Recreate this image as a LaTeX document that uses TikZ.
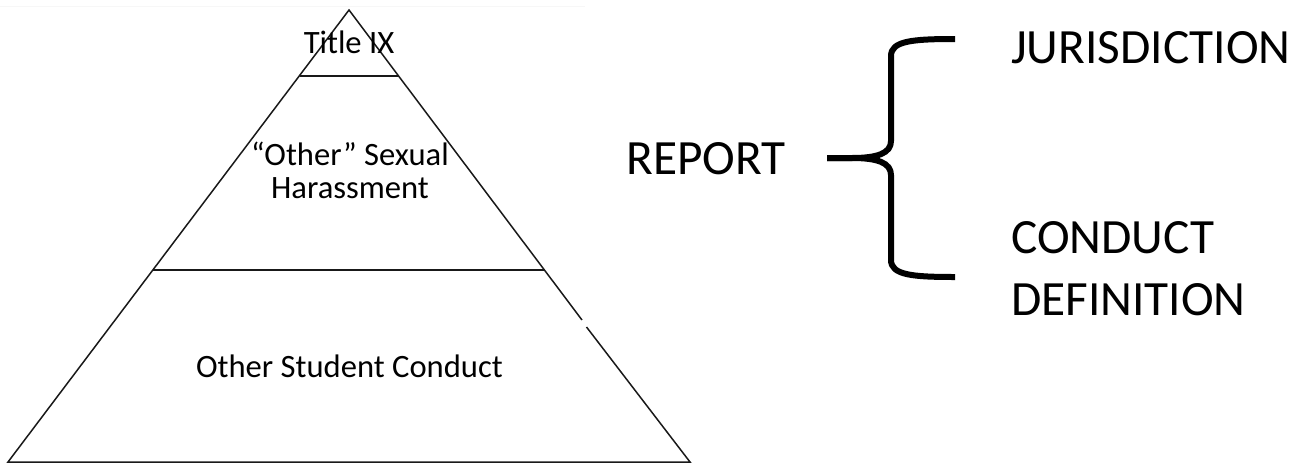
\documentclass[tikz,border=0pt]{standalone}
\usepackage{fontspec}
\setmainfont{Carlito}
\begin{document}
\begin{tikzpicture}[x=1pt,y=-1pt,
  edge/.style={line width=1.5pt,black!90},
  small/.style={inner sep=0pt,font=\fontsize{32.6}{33}\selectfont,align=center},
  big/.style={inner sep=0pt,font=\fontsize{49.3}{50}\selectfont},
  brace/.style={line width=6pt,line cap=butt,line join=round}]
\useasboundingbox (0,0) rectangle (1302,464);
\draw[black!3,line width=1pt] (0,6) -- (585,6);
% triangle corners
\coordinate (apex) at (349,10);
\coordinate (bl) at (8,462);
\coordinate (br) at (690,462);
\coordinate (gapA) at (582,320);
\coordinate (gapB) at (586.5,327);
\coordinate (t1l) at (299.5,76);
\coordinate (t1r) at (398.5,76);
\coordinate (t2l) at (153,270);
\coordinate (t2r) at (545,270);
\draw[edge,line join=miter] (gapA) -- (apex) -- (bl) -- (br) -- (gapB);
\draw[edge] (t1l) -- (t1r);
\draw[edge] (t2l) -- (t2r);
% labels in pyramid
\node[small,anchor=base] (title) at (349,53) {Title IX};
\node[small,anchor=base] (other) at (350,165) {“Other” Sexual};
\node[small,anchor=base] (harass) at (350,198) {Harassment};
\node[small,anchor=base] (student) at (349.5,377) {Other Student Conduct};
% right side
\node[big,anchor=base] (report) at (706,174) {REPORT};
\node[big,anchor=base west] (juris) at (1011,63) {JURISDICTION};
\node[big,anchor=base west] (conduct) at (1011,253) {CONDUCT};
\node[big,anchor=base west] (defin) at (1011,315) {DEFINITION};
% brace
\coordinate (btop) at (955,39);
\coordinate (btip) at (827,158);
\coordinate (bbot) at (955,277);
\draw[brace] (btop) .. controls (912,39) and (891,41) .. (891,56) -- (891,141)
  .. controls (891,153) and (878,158) .. (852,158) -- (btip);
\draw[brace] (btip) -- (852,158) .. controls (878,158) and (891,163) .. (891,175)
  -- (891,260) .. controls (891,275) and (912,277) .. (bbot);
\end{tikzpicture}
\end{document}
